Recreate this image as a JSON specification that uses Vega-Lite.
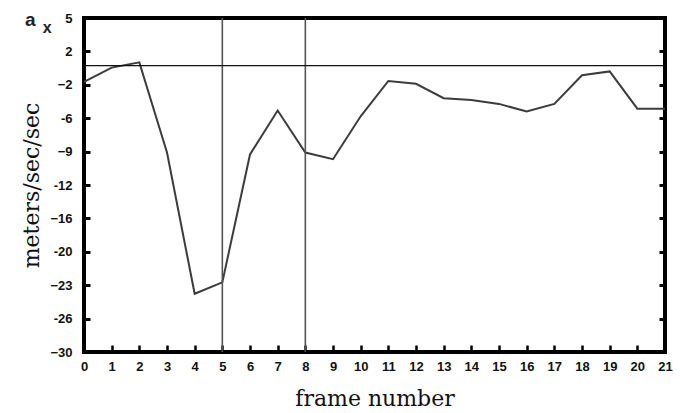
{
  "$schema": "https://vega.github.io/schema/vega-lite/v6.json",
  "width": 581,
  "height": 334,
  "autosize": "none",
  "padding": {"left": 84, "top": 18, "right": 15, "bottom": 61},
  "background": "white",
  "title": {
    "text": "a",
    "subtitle": "\u200c\u00a0\u00a0\u00a0\u00a0x",
    "anchor": "start",
    "frame": "group",
    "dx": -59,
    "offset": -24,
    "font": "Liberation Sans",
    "fontSize": 19,
    "fontWeight": "bold",
    "color": "#222",
    "subtitleFont": "Liberation Sans",
    "subtitleFontSize": 16,
    "subtitleFontWeight": "bold",
    "subtitleColor": "#222",
    "subtitlePadding": -10
  },
  "config": {
    "view": {"stroke": "black", "strokeWidth": 4},
    "axis": {
      "domain": false,
      "grid": false,
      "tickColor": "black",
      "labelFont": "Liberation Sans",
      "labelFontWeight": "bold",
      "labelFontSize": 13,
      "labelColor": "#111",
      "titleFont": "DejaVu Serif",
      "titleFontSize": 22,
      "titleFontWeight": "normal",
      "titleColor": "#111"
    }
  },
  "datasets": {
    "accel": [
      {"frame": 0, "value": -1.7},
      {"frame": 1, "value": -0.2},
      {"frame": 2, "value": 0.35},
      {"frame": 3, "value": -9.1},
      {"frame": 4, "value": -23.9},
      {"frame": 5, "value": -22.7},
      {"frame": 6, "value": -9.3},
      {"frame": 7, "value": -4.7},
      {"frame": 8, "value": -9.1},
      {"frame": 9, "value": -9.8},
      {"frame": 10, "value": -5.3},
      {"frame": 11, "value": -1.6},
      {"frame": 12, "value": -1.9},
      {"frame": 13, "value": -3.4},
      {"frame": 14, "value": -3.6},
      {"frame": 15, "value": -4.0},
      {"frame": 16, "value": -4.8},
      {"frame": 17, "value": -4.0},
      {"frame": 18, "value": -1.0},
      {"frame": 19, "value": -0.6},
      {"frame": 20, "value": -4.5},
      {"frame": 21, "value": -4.5}
    ],
    "markers": [{"frame": 5}, {"frame": 8}],
    "zero": [{"value": 0}]
  },
  "resolve": {"axis": {"y": "independent"}},
  "layer": [
    {
      "data": {"name": "accel"},
      "mark": {"type": "line", "color": "#3c3c3c", "strokeWidth": 2},
      "encoding": {
        "x": {
          "field": "frame", "type": "quantitative",
          "scale": {"domain": [0, 21], "nice": false, "zero": false},
          "axis": {
            "values": [0,1,2,3,4,5,6,7,8,9,10,11,12,13,14,15,16,17,18,19,20,21],
            "tickSize": -7,
            "tickWidth": 2.5,
            "labelPadding": 15,
            "labelFlush": false,
            "labelDx": 2,
            "title": "frame number",
            "titlePadding": 15
          }
        },
        "y": {
          "field": "value", "type": "quantitative",
          "scale": {"domain": [-30, 5], "nice": false, "zero": false},
          "axis": {
            "orient": "left",
            "values": [5, 1.5, -2, -5.5, -9, -12.5, -16, -19.5, -23, -26.5, -30],
            "labelExpr": "datum.value == 1.5 ? '2' : datum.value == -5.5 ? '-6' : datum.value == -12.5 ? '-12' : datum.value == -19.5 ? '-20' : datum.value == -26.5 ? '-26' : format(datum.value, 'd')",
            "tickSize": -6,
            "tickWidth": 3,
            "labelPadding": 18,
            "title": "meters/sec/sec",
            "titlePadding": 6
          }
        }
      }
    },
    {
      "data": {"name": "markers"},
      "mark": {"type": "rule", "color": "#555", "strokeWidth": 1.6},
      "encoding": {
        "x": {
          "field": "frame", "type": "quantitative",
          "scale": {"domain": [0, 21], "nice": false, "zero": false},
          "axis": {
            "values": [0,1,2,3,4,5,6,7,8,9,10,11,12,13,14,15,16,17,18,19,20,21],
            "tickSize": -7,
            "tickWidth": 2.5,
            "labelPadding": 15,
            "labelFlush": false,
            "labelDx": 2,
            "title": "frame number",
            "titlePadding": 15
          }
        }
      }
    },
    {
      "data": {"name": "zero"},
      "mark": {"type": "rule", "color": "#111", "strokeWidth": 1.2},
      "encoding": {
        "y": {
          "field": "value", "type": "quantitative",
          "scale": {"domain": [-30, 5], "nice": false, "zero": false},
          "axis": {
            "orient": "right",
            "values": [5, 1.5, -2, -5.5, -9, -12.5, -16, -19.5, -23, -26.5, -30],
            "labels": false,
            "tickSize": -6,
            "tickWidth": 3,
            "title": null
          }
        }
      }
    }
  ]
}
